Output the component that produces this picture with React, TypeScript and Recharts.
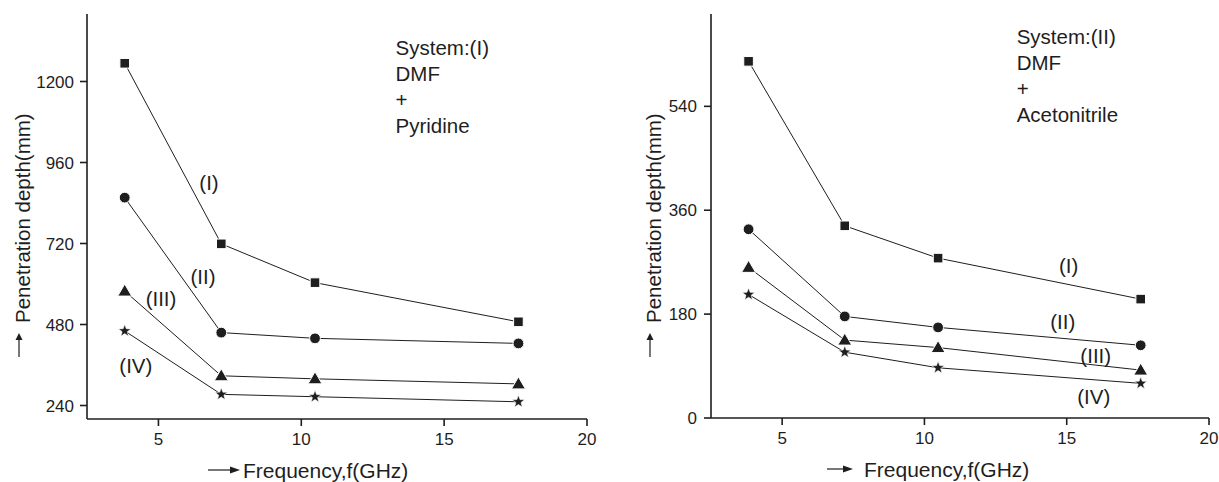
import React from 'react';
import { LineChart, Line, XAxis, YAxis, ReferenceDot } from 'recharts';

const FONT = '"Liberation Sans", Arial, Helvetica, sans-serif';
const INK = '#1e1e1e';

// Frequencies (GHz)
const freq = [3.82, 7.2, 10.48, 17.6];

// System (I): DMF + Pyridine — penetration depth (mm)
const sys1_I = [1254, 719, 604, 488];
const sys1_II = [856, 456, 439, 424];
const sys1_III = [579, 328, 319, 304];
const sys1_IV = [461, 273, 266, 251];

// System (II): DMF + Acetonitrile — penetration depth (mm)
const sys2_I = [618, 333, 277, 206];
const sys2_II = [327, 176, 157, 126];
const sys2_III = [261, 135, 122, 83];
const sys2_IV = [214, 114, 87, 60];

const xTicks = [5, 10, 15, 20];
const yTicks1 = [240, 480, 720, 960, 1200];
const yTicks2 = [0, 180, 360, 540];

const seriesNames = ['(I)', '(II)', '(III)', '(IV)'];
const shapes = ['square', 'circle', 'triangle', 'star'];

// Curve label anchors (data coordinates)
const labels1 = [
  { x: 6.77, y: 902 },
  { x: 6.56, y: 621 },
  { x: 5.09, y: 556 },
  { x: 4.21, y: 360 },
];
const labels2 = [
  { x: 15.07, y: 264 },
  { x: 14.86, y: 168 },
  { x: 16.02, y: 108 },
  { x: 15.95, y: 38 },
];

const note1 = ['System:(I)', 'DMF', '+', 'Pyridine'];
const note2 = ['System:(II)', 'DMF', '+', 'Acetonitrile'];

const build = (a: number[], b: number[], c: number[], d: number[]) =>
  freq.map((f, i) => ({ f, s1: a[i], s2: b[i], s3: c[i], s4: d[i] }));

const data1 = build(sys1_I, sys1_II, sys1_III, sys1_IV);
const data2 = build(sys2_I, sys2_II, sys2_III, sys2_IV);

const Marker = (props: any) => {
  const { cx, cy, shape } = props;
  if (cx == null || cy == null) return null;
  const common = { fill: INK, stroke: '#fff', strokeWidth: 1 };
  if (shape === 'square') {
    return <rect x={cx - 4.8} y={cy - 4.8} width={9.6} height={9.6} {...common} />;
  }
  if (shape === 'circle') {
    return <circle cx={cx} cy={cy} r={5.4} {...common} />;
  }
  if (shape === 'triangle') {
    const pts = `${cx},${cy - 7} ${cx - 7},${cy + 5} ${cx + 7},${cy + 5}`;
    return <polygon points={pts} {...common} />;
  }
  const pts: string[] = [];
  for (let k = 0; k < 10; k++) {
    const r = k % 2 === 0 ? 6.5 : 2.7;
    const a = -Math.PI / 2 + (k * Math.PI) / 5;
    pts.push(`${cx + r * Math.cos(a)},${cy + r * Math.sin(a)}`);
  }
  return <polygon points={pts.join(' ')} fill={INK} stroke="#fff" strokeWidth={0.6} />;
};

const CurveLabel = (props: any) => {
  const { viewBox, text } = props;
  if (!viewBox) return null;
  return (
    <text
      x={viewBox.x}
      y={viewBox.y}
      textAnchor="middle"
      dominantBaseline="central"
      fontFamily={FONT}
      fontSize={20.5}
      fill={INK}
    >
      {text}
    </text>
  );
};

const NoteLabel = (props: any) => {
  const { viewBox, lines } = props;
  if (!viewBox) return null;
  return (
    <g>
      {lines.map((t: string, i: number) => (
        <text
          key={i}
          x={viewBox.x}
          y={viewBox.y + i * 26}
          textAnchor="start"
          dominantBaseline="central"
          fontFamily={FONT}
          fontSize={20.5}
          fill={INK}
        >
          {t}
        </text>
      ))}
    </g>
  );
};

const YTitle = (props: any) => {
  const { cx, bottom } = props;
  // rotated frame: +x points up on screen
  return (
    <g transform={`translate(${cx},${bottom}) rotate(-90)`}>
      <line x1={-34} y1={-3} x2={-16} y2={-3} stroke={INK} strokeWidth={1.2} />
      <polygon points={`-10,-3 -17,-6.5 -17,0.5`} fill={INK} />
      <text
        x={0}
        y={0}
        textAnchor="start"
        dominantBaseline="central"
        fontFamily={FONT}
        fontSize={20.5}
        fill={INK}
      >
        Penetration depth(mm)
      </text>
    </g>
  );
};

const XTitle = (props: any) => {
  const { arrowStart, arrowEnd, textX, y } = props;
  return (
    <g>
      <line x1={arrowStart} y1={y} x2={arrowEnd - 8} y2={y} stroke={INK} strokeWidth={1.2} />
      <polygon points={`${arrowEnd},${y} ${arrowEnd - 10},${y - 3.5} ${arrowEnd - 10},${y + 3.5}`} fill={INK} />
      <text
        x={textX}
        y={y}
        textAnchor="start"
        dominantBaseline="central"
        fontFamily={FONT}
        fontSize={21}
        fill={INK}
      >
        Frequency,f(GHz)
      </text>
    </g>
  );
};

const tickStyle = { fontFamily: FONT, fontSize: 17, fill: INK };
const axisLineStyle = { stroke: INK, strokeWidth: 1.6 };

type PanelProps = {
  data: any[];
  width: number;
  margin: any;
  domain: [number, number];
  yTicks: number[];
  labels: { x: number; y: number }[];
  note: string[];
  noteAt: { x: number; y: number };
  yTitle: { cx: number; bottom: number };
  xTitle: { arrowStart: number; arrowEnd: number; textX: number; y: number };
  yTickMargin: number;
};

const Panel = (p: PanelProps) => (
  <LineChart width={p.width} height={482} data={p.data} margin={p.margin}>
    <XAxis
      dataKey="f"
      type="number"
      domain={[2.5, 20]}
      ticks={xTicks}
      allowDataOverflow
      height={40}
      tickSize={7}
      tickMargin={7}
      tick={tickStyle}
      axisLine={axisLineStyle}
      tickLine={axisLineStyle}
      label={(lp: any) => <XTitle {...p.xTitle} />}
    />
    <YAxis
      type="number"
      domain={p.domain}
      ticks={p.yTicks}
      allowDataOverflow
      width={60}
      tickSize={7}
      tickMargin={p.yTickMargin}
      tick={tickStyle}
      axisLine={axisLineStyle}
      tickLine={axisLineStyle}
      label={(lp: any) => <YTitle {...p.yTitle} />}
    />
    {['s1', 's2', 's3', 's4'].map((k, i) => (
      <Line
        key={k}
        dataKey={k}
        stroke={INK}
        strokeWidth={1}
        isAnimationActive={false}
        dot={(dp: any) => <Marker key={`${k}-${dp.index}`} {...dp} shape={shapes[i]} />}
        activeDot={false}
      />
    ))}
    {p.labels.map((l, i) => (
      <ReferenceDot
        key={`lab${i}`}
        x={l.x}
        y={l.y}
        r={0}
        fill="none"
        stroke="none"
        label={(lp: any) => <CurveLabel {...lp} text={seriesNames[i]} />}
      />
    ))}
    <ReferenceDot
      x={p.noteAt.x}
      y={p.noteAt.y}
      r={0}
      fill="none"
      stroke="none"
      label={(lp: any) => <NoteLabel {...lp} lines={p.note} />}
    />
  </LineChart>
);

export default function App() {
  return (
    <div style={{ position: 'absolute', left: 0, top: 0, width: 1219, height: 482, background: '#fff' }}>
      <div style={{ position: 'absolute', left: 0, top: 0 }}>
        <Panel
          data={data1}
          width={610}
          margin={{ top: 14, right: 23, bottom: 23, left: 27 }}
          domain={[200, 1400]}
          yTicks={yTicks1}
          labels={labels1}
          note={note1}
          noteAt={{ x: 13.3, y: 1302 }}
          yTitle={{ cx: 22, bottom: 323 }}
          xTitle={{ arrowStart: 208, arrowEnd: 240, textX: 243, y: 470 }}
          yTickMargin={6}
        />
      </div>
      <div style={{ position: 'absolute', left: 610, top: 0 }}>
        <Panel
          data={data2}
          width={609}
          margin={{ top: 14, right: 10, bottom: 24, left: 41 }}
          domain={[0, 700]}
          yTicks={yTicks2}
          labels={labels2}
          note={note2}
          noteAt={{ x: 13.24, y: 661 }}
          yTitle={{ cx: 43, bottom: 323 }}
          xTitle={{ arrowStart: 217, arrowEnd: 243, textX: 254, y: 469 }}
          yTickMargin={7}
        />
      </div>
    </div>
  );
}
